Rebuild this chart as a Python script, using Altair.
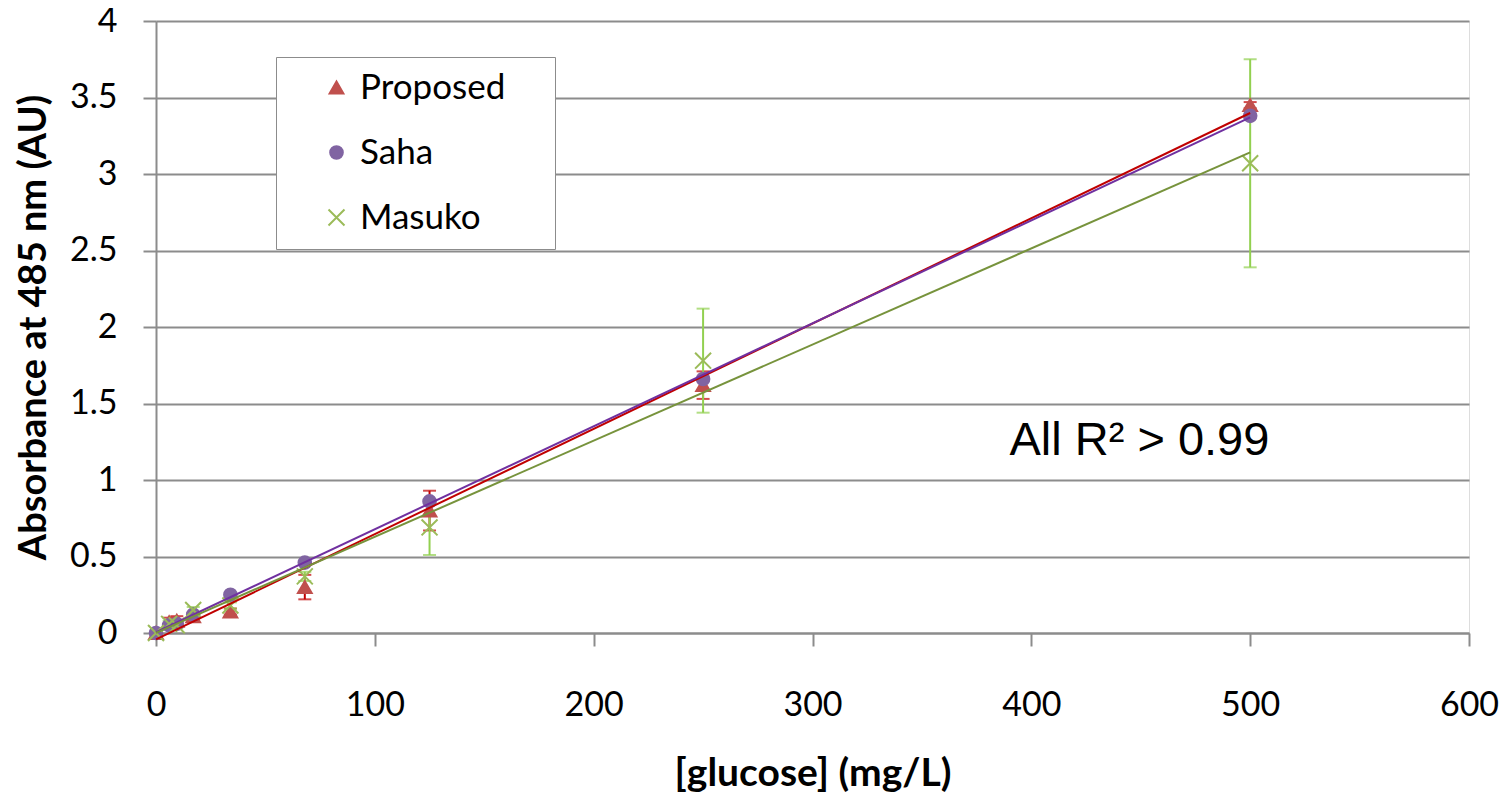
import altair as alt
import pandas as pd

# ---- data ----
conc = [0, 6, 9.5, 17, 34, 68, 125, 250, 500]
series_names = ["Proposed", "Saha", "Masuko"]
proposed = [0, 0.07, 0.08, 0.11, 0.14, 0.30, 0.80, 1.62, 3.45]
saha = [0, 0.05, 0.06, 0.12, 0.25, 0.46, 0.86, 1.66, 3.38]
masuko = [0, 0.06, 0.05, 0.15, 0.18, 0.37, 0.69, 1.78, 3.07]
proposed_err = [0, 0.03, 0.03, 0.02, 0.02, 0.08, 0.13, 0.09, 0.02]
saha_err = [0, 0, 0, 0, 0, 0, 0, 0, 0]
masuko_err = [0, 0.02, 0.02, 0.02, 0.02, 0.03, 0.18, 0.34, 0.68]

x_ticks = [0, 100, 200, 300, 400, 500, 600]
y_ticks = [0, 0.5, 1, 1.5, 2, 2.5, 3, 3.5, 4]

ann_text = ["All R\u00b2 > 0.99"]
ann_x = [390]
ann_y = [1.163]

marker_colors = ["#C0504D", "#8064A2", "#9BBB59"]
line_colors = ["#C00000", "#7030A0", "#77933C"]
err_colors = ["#C00000", "#7030A0", "#92D050"]
shapes = ["triangle-up", "circle", "M-1.4,-1.4L1.4,1.4M1.4,-1.4L-1.4,1.4"]
sizes = [190, 130, 420]

rows = []
for name, ys, errs in zip(series_names, [proposed, saha, masuko],
                          [proposed_err, saha_err, masuko_err]):
    for xv, yv, ev in zip(conc, ys, errs):
        rows.append({"series": name, "conc": xv, "abs": yv,
                     "lo": yv - ev, "hi": yv + ev, "err": ev})
df = pd.DataFrame(rows)
ann_df = pd.DataFrame({"t": ann_text, "x": ann_x, "y": ann_y})

GRAY = "#8c8c8c"

x_scale = alt.Scale(domain=[0, 600], nice=False, zero=True)
y_scale = alt.Scale(domain=[0, 4], nice=False)

x_axis = alt.Axis(values=x_ticks, format="d", grid=False,
                  tickSize=13, tickWidth=2, tickColor=GRAY,
                  domainColor=GRAY, domainWidth=2,
                  labelFont="Lato", labelFontSize=34, labelColor="black",
                  labelPadding=42, labelFlush=False, labelOverlap=False,
                  title="[glucose] (mg/L)", titleFont="Lato", titleFontSize=39,
                  titleFontWeight="bold", titleColor="black",
                  titleX=656.5, titleY=140, titleBaseline="middle")
y_axis = alt.Axis(values=y_ticks, format="~g", grid=True,
                  gridColor=GRAY, gridWidth=2,
                  tickSize=13, tickWidth=2, tickColor=GRAY,
                  domainColor=GRAY, domainWidth=2,
                  labelFont="Lato", labelFontSize=34, labelColor="black",
                  labelPadding=26, labelFlush=False, labelOverlap=False,
                  title="Absorbance at 485 nm (AU)", titleFont="Lato",
                  titleFontSize=38, titleFontWeight="bold", titleColor="black",
                  titleX=-122, titleY=306, titleBaseline="middle")

X = alt.X("conc:Q", scale=x_scale, axis=x_axis)
Y = alt.Y("abs:Q", scale=y_scale, axis=y_axis)

legend = alt.Legend(title="\u00a0", titleOrient="right", titleFontSize=8,
                    titlePadding=37,
                    orient="none", legendX=120, legendY=36,
                    strokeColor=GRAY, fillColor="white", padding=13,
                    labelFont="Lato", labelFontSize=35, labelColor="black",
                    labelLimit=400,
                    symbolOffset=30, labelOffset=6, rowPadding=29,
                    symbolStrokeWidth=2)

base = alt.Chart(df)

layers = []
# error bars
for name, c in zip(series_names, err_colors):
    sub = base.transform_filter((alt.datum.series == name) & (alt.datum.err > 0))
    layers.append(sub.mark_rule(color=c, strokeWidth=2).encode(
        x=X, y=alt.Y("lo:Q", scale=y_scale, axis=y_axis), y2="hi:Q"))
    layers.append(sub.mark_tick(color=c, orient="horizontal", size=13, thickness=2).encode(
        x=X, y=alt.Y("lo:Q", scale=y_scale, axis=y_axis)))
    layers.append(sub.mark_tick(color=c, orient="horizontal", size=13, thickness=2).encode(
        x=X, y=alt.Y("hi:Q", scale=y_scale, axis=y_axis)))

# markers
points = base.mark_point(filled=True, strokeWidth=2, opacity=1).encode(
    x=X, y=Y,
    fill=alt.Fill("series:N", scale=alt.Scale(domain=series_names, range=marker_colors), legend=legend),
    stroke=alt.Stroke("series:N", scale=alt.Scale(domain=series_names, range=marker_colors), legend=legend),
    shape=alt.Shape("series:N", scale=alt.Scale(domain=series_names, range=shapes), legend=legend),
    size=alt.Size("series:N", scale=alt.Scale(domain=series_names, range=sizes), legend=legend),
)
layers.append(points)

# linear trend lines
for name, c in zip(series_names, line_colors):
    layers.append(base.transform_filter(alt.datum.series == name)
                  .transform_regression("conc", "abs", method="linear")
                  .mark_line(color=c, strokeWidth=2).encode(x=X, y=Y))

ann = alt.Chart(ann_df).mark_text(font="Liberation Sans", fontSize=47, align="left",
                                   baseline="alphabetic", color="black").encode(
    x=alt.X("x:Q", scale=x_scale, axis=x_axis),
    y=alt.Y("y:Q", scale=y_scale, axis=y_axis),
    text="t:N")
layers.append(ann)

chart = alt.layer(*layers).properties(
    width=1313, height=612,
    padding={"left": 148, "top": 13, "right": 33, "bottom": 162},
    autosize=alt.AutoSizeParams(type="none"),
).configure_view(stroke=GRAY, strokeWidth=2).configure(background="white")

chart.save("out.html", embed_options={"renderer": "svg", "actions": False})
